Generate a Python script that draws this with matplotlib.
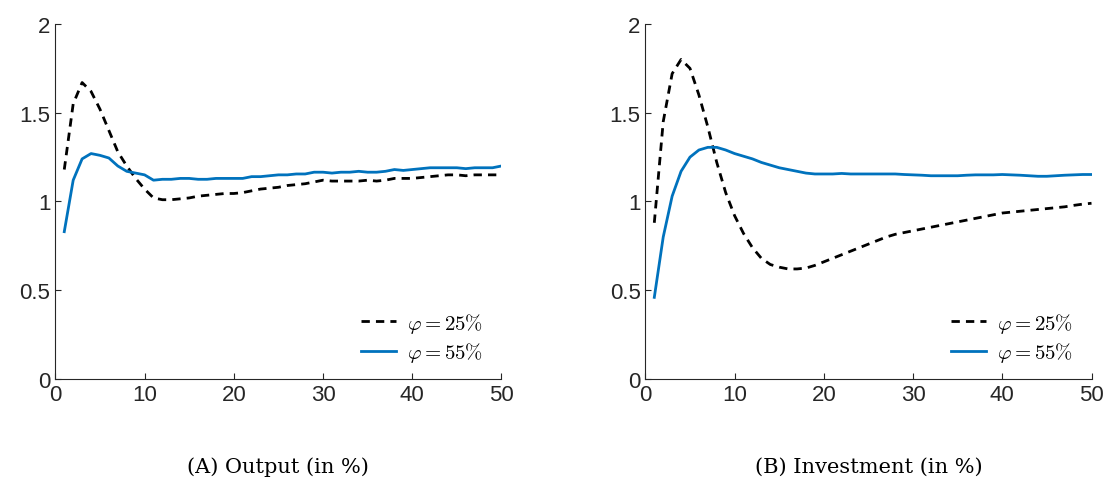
import matplotlib
matplotlib.use("Agg")
import matplotlib.pyplot as plt
import numpy as np

plt.rcParams["mathtext.fontset"] = "cm"
plt.rcParams["font.family"] = "Liberation Sans"

BLUE = "#0072bd"

t = np.arange(1, 51)

output_25 = [1.18, 1.55, 1.67, 1.62, 1.52, 1.40, 1.28, 1.20, 1.13, 1.07,
             1.02, 1.01, 1.01, 1.015, 1.02, 1.03, 1.035, 1.04, 1.045, 1.045,
             1.05, 1.06, 1.07, 1.075, 1.08, 1.09, 1.095, 1.10, 1.11, 1.12,
             1.115, 1.115, 1.115, 1.115, 1.12, 1.115, 1.12, 1.13, 1.13, 1.13,
             1.135, 1.14, 1.145, 1.15, 1.15, 1.145, 1.15, 1.15, 1.15, 1.15]
output_55 = [0.83, 1.12, 1.24, 1.27, 1.26, 1.245, 1.20, 1.17, 1.16, 1.15,
             1.12, 1.125, 1.125, 1.13, 1.13, 1.125, 1.125, 1.13, 1.13, 1.13,
             1.13, 1.14, 1.14, 1.145, 1.15, 1.15, 1.155, 1.155, 1.165, 1.165,
             1.16, 1.165, 1.165, 1.17, 1.165, 1.165, 1.17, 1.18, 1.175, 1.18,
             1.185, 1.19, 1.19, 1.19, 1.19, 1.185, 1.19, 1.19, 1.19, 1.20]
invest_25 = [0.88, 1.45, 1.72, 1.80, 1.75, 1.60, 1.42, 1.22, 1.05, 0.92,
             0.82, 0.74, 0.68, 0.645, 0.63, 0.62, 0.62, 0.625, 0.64, 0.66,
             0.68, 0.70, 0.72, 0.74, 0.76, 0.78, 0.80, 0.815, 0.825, 0.835,
             0.845, 0.855, 0.865, 0.875, 0.885, 0.895, 0.905, 0.915, 0.925, 0.935,
             0.94, 0.945, 0.95, 0.955, 0.96, 0.965, 0.97, 0.978, 0.985, 0.99]
invest_55 = [0.46, 0.80, 1.03, 1.17, 1.25, 1.29, 1.305, 1.305, 1.29, 1.27,
             1.255, 1.24, 1.22, 1.205, 1.19, 1.18, 1.17, 1.16, 1.155, 1.155,
             1.155, 1.158, 1.155, 1.155, 1.155, 1.155, 1.155, 1.155, 1.152, 1.15,
             1.148, 1.145, 1.145, 1.145, 1.145, 1.148, 1.15, 1.15, 1.15, 1.152,
             1.15, 1.148, 1.145, 1.142, 1.142, 1.145, 1.148, 1.15, 1.152, 1.152]

panels = [
    (output_25, output_55, "(A) Output (in %)"),
    (invest_25, invest_55, "(B) Investment (in %)"),
]

fig = plt.figure(figsize=(11.07, 4.85), dpi=100)
lefts = [0.050, 0.583]
for left, (d25, d55, title) in zip(lefts, panels):
    ax = fig.add_axes([left, 0.2165, 0.403, 0.732])
    ax.plot(t, d25, color="black", ls=(0, (3, 2.2)), lw=2,
            label=r"$\varphi = 25\%$")
    ax.plot(t, d55, color=BLUE, lw=2, label=r"$\varphi = 55\%$")
    ax.set_xlim(0, 50)
    ax.set_ylim(0, 2)
    ax.set_xticks(range(0, 51, 10))
    ax.set_yticks([0, 0.5, 1, 1.5, 2])
    ax.set_yticklabels(["0", "0.5", "1", "1.5", "2"])
    ax.tick_params(direction="in", labelsize=16, colors="#262626", length=4)
    for s in ["top", "right"]:
        ax.spines[s].set_visible(False)
    for s in ["left", "bottom"]:
        ax.spines[s].set_color("#262626")
    ax.legend(loc="lower right", frameon=False, fontsize=15,
              handlelength=1.7, handletextpad=0.5, labelspacing=0.25,
              borderaxespad=0.5, bbox_to_anchor=(1.0, -0.01))
    ax.text(0.5, -0.245, title, transform=ax.transAxes, ha="center",
            va="center", fontsize=15, family="DejaVu Serif")

fig.savefig("out.png", dpi=100)
